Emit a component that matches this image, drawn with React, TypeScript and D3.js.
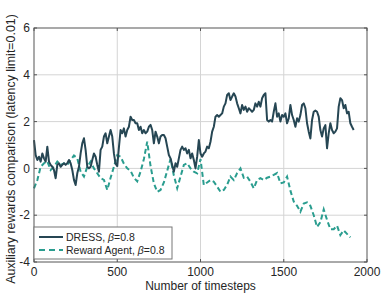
import React from "react";
import * as d3 from "d3";

// timestep spacing of the two recorded series
const DRESS_STEP = 10;
const AGENT_STEP = 20;

// DRESS, beta=0.8 (t = 0, 10, 20, ...)
const dressValues = [
  1.21, 0.57, 0.36, 0.5, 0.29, 0.64, 0.43, 0.29, 0.93, 0.29,
  0.15, 0.07, -0.07, -0.42, 0.15, 0.22, 0.07, 0.15, 0.22, 0.15,
  0.22, 0.36, 0.22, -0.07, -0.49, -0.71, -0.21, 0.07, 0.64, 1.07,
  1.29, 0.79, 0.07, 0.0, 0.07, 0.36, 0.64, 0.5, 0.15, -0.14,
  0.79, 0.93, 1.36, 1.5, 1.07, 1.36, 1.64, 1.36, 0.64, 0.2,
  0.1, 0.9, 1.64, 1.5, 1.71, 1.36, 1.64, 1.78, 2.21, 2.07,
  2.07, 1.93, 1.93, 1.64, 1.78, 1.5, 1.64, 1.5, 1.57, 1.78,
  1.86, 1.64, 1.07, 1.57, 1.36, 1.07, 1.36, 1.43, 1.43, 1.29,
  0.93, 0.57, 0.43, 0.15, -0.14, 0.22, 0.07, 0.43, 0.79, 0.93,
  0.79, 0.86, 0.64, 0.79, 0.43, 0.64, 0.36, 0.0, 0.5, 1.21,
  0.64, 0.5, 0.64, 0.72, 0.93, 0.86, 1.14, 1.57, 1.78, 2.21,
  2.28, 2.21, 2.28, 2.35, 2.64, 2.78, 3.14, 3.21, 2.92, 3.07,
  3.21, 3.07, 2.78, 2.57, 2.35, 2.71, 2.5, 2.64, 2.42, 2.57,
  2.5, 2.42, 2.5, 2.78, 2.64, 2.85, 2.64, 3.0, 3.14, 3.21,
  2.07, 2.0, 2.07, 2.0, 2.42, 2.78, 2.21, 2.35, 2.0, 2.28,
  2.21, 2.35, 1.93, 2.14, 2.71, 2.28, 2.07, 1.78, 2.14, 2.0,
  2.28, 2.71, 2.78, 2.57, 1.93, 1.57, 1.28, 2.07, 2.42, 2.47,
  2.42, 2.21, 1.64, 1.36, 1.71, 1.85, 0.86, 1.5, 1.93, 1.64,
  1.5, 1.57, 1.71, 2.64, 3.0, 2.92, 2.57, 2.71, 2.35, 2.42,
  1.93, 1.78, 1.64,
];

// Reward Agent, beta=0.8 (t = 0, 20, 40, ...)
const agentValues = [
  -0.85, -0.5, 0.07, 0.22, 0.3, -0.07, 0.07, 0.29, 0.15, 0.22,
  0.15, 0.36, 0.55, 0.43, -0.14, -0.35, 0.07, 0.29, 0.0, -0.21,
  -0.42, -0.49, -0.92, -0.4, 0.07, 0.57, 0.5, 0.2, 0.0, -0.1,
  -0.4, -0.55, -0.14, 0.4, 1.14, 0.1, -0.64, -1.0, -0.92, -0.6,
  -0.1, 0.4, -0.3, -0.85, -0.35, 0.15, 0.22, 0.0, -0.14, -0.21,
  0.4, -0.71, -0.6, -0.5, -0.57, -0.78, -1.0, -0.92, -0.7, -0.35,
  -0.5, -0.2, 0.0, -0.4, -0.35, -0.57, -0.85, -0.5, -0.42, -0.5,
  -0.4, -0.35, -0.28, -0.2, -0.64, -0.6, -0.35, -0.95, -1.42, -1.6,
  -1.85, -1.5, -1.45, -1.6, -2.0, -2.5, -2.3, -1.75, -2.2, -2.6,
  -2.6, -2.45, -2.85, -2.65, -2.8, -2.95,
];

const xTicks = [0, 500, 1000, 1500, 2000];
const yTicks = [-4, -2, 0, 2, 4, 6];

const DRESS_COLOR = "#264653";
const AGENT_COLOR = "#2a9d8f";
const FONT = "'Liberation Sans', Arial, Helvetica, sans-serif";

export default function App() {
  const width = 383;
  const height = 299;
  const margin = { top: 28, right: 16, bottom: 37, left: 34 };
  const innerW = width - margin.left - margin.right;
  const innerH = height - margin.top - margin.bottom;

  const x = d3.scaleLinear().domain([0, 2000]).range([0, innerW]);
  const y = d3.scaleLinear().domain([-4, 6]).range([innerH, 0]);

  const dressLine = d3
    .line<number>()
    .x((_, i) => x(i * DRESS_STEP))
    .y((d) => y(d));
  const agentLine = d3
    .line<number>()
    .x((_, i) => x(i * AGENT_STEP))
    .y((d) => y(d));

  const tickLen = 3;

  return (
    <svg
      width={width}
      height={height}
      style={{ position: "absolute", left: 0, top: 0, background: "#fff" }}
      fontFamily={FONT}
    >
      <g transform={`translate(${margin.left},${margin.top})`}>
        {/* grid */}
        {xTicks.slice(1, -1).map((t) => (
          <line
            key={`gx${t}`}
            x1={x(t)}
            x2={x(t)}
            y1={0}
            y2={innerH}
            stroke="#d4d4d4"
            strokeWidth={1}
          />
        ))}
        {yTicks.slice(1, -1).map((t) => (
          <line
            key={`gy${t}`}
            x1={0}
            x2={innerW}
            y1={y(t)}
            y2={y(t)}
            stroke="#d4d4d4"
            strokeWidth={1}
          />
        ))}

        {/* series */}
        <path
          d={agentLine(agentValues) ?? ""}
          fill="none"
          stroke={AGENT_COLOR}
          strokeWidth={2}
          strokeDasharray="5,3"
        />
        <path
          d={dressLine(dressValues) ?? ""}
          fill="none"
          stroke={DRESS_COLOR}
          strokeWidth={2}
          strokeLinejoin="round"
        />

        {/* axes box + inward ticks */}
        <rect
          x={0}
          y={0}
          width={innerW}
          height={innerH}
          fill="none"
          stroke="#555"
          strokeWidth={1}
        />
        {xTicks.map((t) => (
          <g key={`tx${t}`}>
            <line x1={x(t)} x2={x(t)} y1={innerH} y2={innerH - tickLen} stroke="#555" />
            <line x1={x(t)} x2={x(t)} y1={0} y2={tickLen} stroke="#555" />
            <text
              x={x(t)}
              y={innerH + 14}
              textAnchor="middle"
              fontSize={12}
              fill="#262626"
            >
              {t}
            </text>
          </g>
        ))}
        {yTicks.map((t) => (
          <g key={`ty${t}`}>
            <line x1={0} x2={tickLen} y1={y(t)} y2={y(t)} stroke="#555" />
            <line x1={innerW} x2={innerW - tickLen} y1={y(t)} y2={y(t)} stroke="#555" />
            <text
              x={-4}
              y={y(t)}
              dy="0.35em"
              textAnchor="end"
              fontSize={12}
              fill="#262626"
            >
              {t}
            </text>
          </g>
        ))}

        {/* legend */}
        <g transform={`translate(0,${innerH - 35})`}>
          <rect x={0} y={0} width={138} height={32} fill="#fff" stroke="#777" strokeWidth={1} />
          <line x1={5} x2={29} y1={10} y2={10} stroke={DRESS_COLOR} strokeWidth={2} />
          <text x={32} y={10} dy="0.35em" fontSize={10.5} fill="#262626">
            DRESS, <tspan fontStyle="italic">β</tspan>=0.8
          </text>
          <line
            x1={5}
            x2={29}
            y1={23}
            y2={23}
            stroke={AGENT_COLOR}
            strokeWidth={2}
            strokeDasharray="6,4"
          />
          <text x={32} y={23} dy="0.35em" fontSize={10.5} fill="#262626">
            Reward Agent, <tspan fontStyle="italic">β</tspan>=0.8
          </text>
        </g>
      </g>

      {/* axis labels */}
      <text
        x={margin.left + innerW / 2}
        y={290}
        textAnchor="middle"
        fontSize={12}
        fill="#262626"
      >
        Number of timesteps
      </text>
      <text
        transform={`translate(14.5,149) rotate(-90)`}
        textAnchor="middle"
        fontSize={12.4}
        fill="#262626"
      >
        Auxiliary rewards comparison (latency limit=0.01)
      </text>
    </svg>
  );
}
